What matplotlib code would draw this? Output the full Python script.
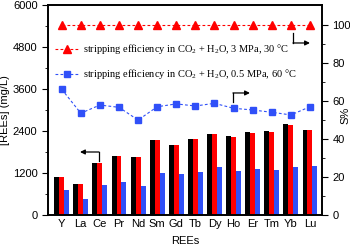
import numpy as np
import matplotlib
matplotlib.use("Agg")
import matplotlib.pyplot as plt

plt.rcParams["font.family"] = ["Liberation Sans", "DejaVu Sans"]
plt.rcParams["mathtext.fontset"] = "custom"
plt.rcParams["mathtext.rm"] = "Liberation Serif"
plt.rcParams["mathtext.it"] = "Liberation Serif:italic"

rees = ["Y", "La", "Ce", "Pr", "Nd", "Sm", "Gd", "Tb", "Dy", "Ho", "Er", "Tm", "Yb", "Lu"]
conc_black = [1090, 875, 1500, 1672, 1662, 2130, 2005, 2160, 2313, 2245, 2362, 2391, 2586, 2440]
conc_red = [1090, 875, 1500, 1672, 1652, 2130, 2000, 2158, 2305, 2236, 2352, 2385, 2576, 2430]
conc_blue = [719, 457, 865, 943, 816, 1205, 1166, 1234, 1361, 1254, 1302, 1293, 1361, 1390]
eff_3mpa = [100] * 14
eff_05mpa = [66.1, 53.5, 57.8, 56.6, 49.9, 56.9, 58.4, 57.3, 58.7, 56.1, 55.2, 54.0, 52.6, 56.9]

RED = "#ff0000"
BLUE = "#3050f8"

fig = plt.figure(figsize=(3.5, 2.48), dpi=100)
ax = fig.add_axes([0.137, 0.133, 0.783, 0.847])
x = np.arange(len(rees))
w = 0.26
ax.bar(x - w, conc_black, w, color="black")
ax.bar(x, conc_red, w, color=RED)
ax.bar(x + w, conc_blue, w, color=BLUE)
ax.set_ylim(0, 6000)
ax.set_xlim(-0.72, 13.63)
ax.set_yticks(np.arange(0, 6001, 1200))
ax.set_yticks(np.arange(600, 6000, 1200), minor=True)
ax.set_xticks(x)
ax.set_xticklabels(rees)
ax.tick_params(axis="x", length=0, labelsize=8, pad=3)
ax.tick_params(axis="y", which="major", length=4, labelsize=8, direction="out")
ax.tick_params(axis="y", which="minor", length=2.5, direction="out")
ax.set_xlabel("REEs", fontsize=8, labelpad=5)
ax.set_ylabel("[REEs] (mg/L)", fontsize=8, labelpad=2)
for s in ax.spines.values():
    s.set_linewidth(1.2)

ax2 = ax.twinx()
ax2.plot(x, eff_3mpa, "--", color=RED, lw=0.8, marker="^", ms=5.5, dashes=(2.5, 2),
         label="stripping efficiency in CO$_2$ + H$_2$O, 3 MPa, 30 °C")
ax2.plot(x, eff_05mpa, "--", color=BLUE, lw=0.8, marker="s", ms=5, dashes=(2.5, 2),
         label="stripping efficiency in CO$_2$ + H$_2$O, 0.5 MPa, 60 °C")
ax2.set_ylim(0, 110.4)
ax2.set_yticks(np.arange(0, 101, 20))
ax2.set_yticks(np.arange(10, 110, 20), minor=True)
ax2.tick_params(axis="y", which="major", length=4, labelsize=8, direction="out")
ax2.tick_params(axis="y", which="minor", length=2.5, direction="out")
ax2.set_ylabel("S%", fontsize=8)
ax2.yaxis.set_label_coords(1.068, 0.476)
for s in ax2.spines.values():
    s.set_linewidth(1.2)
ax2.legend(loc="upper left", bbox_to_anchor=(0.0, 0.856), frameon=False,
           prop={"family": "Liberation Serif", "size": 7.5}, handlelength=2.3,
           handletextpad=0.4, labelspacing=1.05, borderaxespad=0.3)

# bent arrows pointing to the matching axis
arrows = [((0.894, 0.867), (0.894, 0.819), (0.956, 0.819)),
          ((0.675, 0.538), (0.675, 0.581), (0.737, 0.581)),
          ((0.186, 0.257), (0.186, 0.300), (0.117, 0.300))]
for p0, p1, p2 in arrows:
    ax2.plot([p0[0], p1[0]], [p0[1], p1[1]], color="black", lw=0.9, transform=ax2.transAxes)
    ax2.annotate("", xy=p2, xytext=p1, xycoords="axes fraction", textcoords="axes fraction",
                 arrowprops=dict(arrowstyle="-|>", color="black", lw=0.9,
                                 mutation_scale=7, shrinkA=0, shrinkB=0))

fig.savefig("out.png", dpi=100)
